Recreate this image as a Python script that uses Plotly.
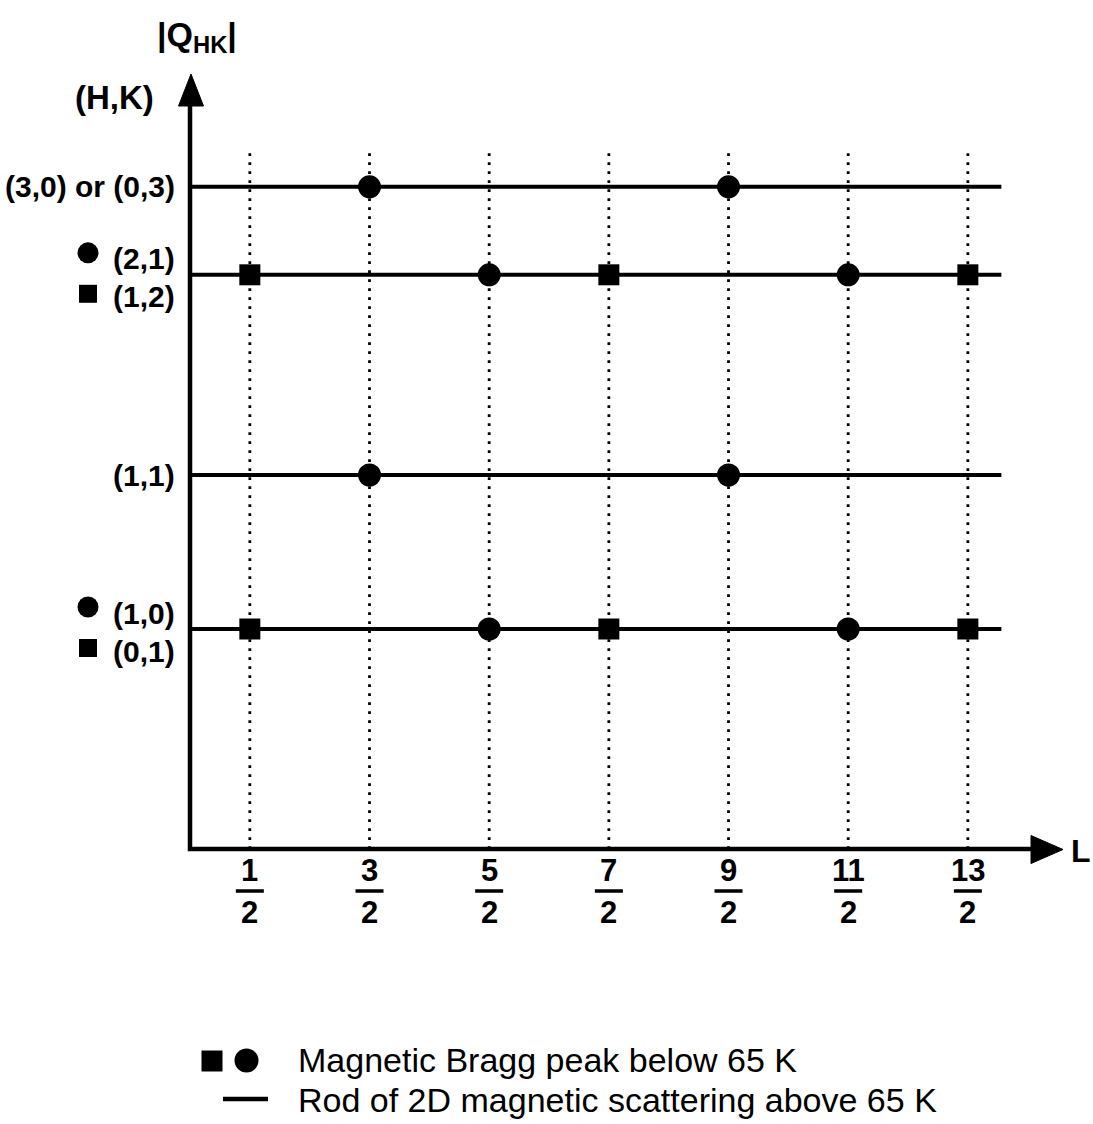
import plotly.graph_objects as go

# ---------------- data ----------------
L_num = [1, 3, 5, 7, 9, 11, 13]          # tick numerators (L = n/2)
L_den = 2
rod_names = ["(1,0)/(0,1)", "(1,1)", "(2,1)/(1,2)", "(3,0) or (0,3)"]
rod_levels = [1.00, 1.70, 2.61, 3.01]     # schematic |Q_HK| position
rod_L_end = 6.78

circle_L = [1.5, 4.5, 2.5, 5.5, 1.5, 4.5, 2.5, 5.5]
circle_Q = [3.01, 3.01, 2.61, 2.61, 1.70, 1.70, 1.00, 1.00]
square_L = [0.5, 3.5, 6.5, 0.5, 3.5, 6.5]
square_Q = [2.61, 2.61, 2.61, 1.00, 1.00, 1.00]

legend_texts = ["Magnetic Bragg peak below 65 K",
                "Rod of 2D magnetic scattering above 65 K"]

# ---------------- layout helpers (pixel <-> data) ----------------
W, H = 1093, 1124
PX0, PY0 = 190.0, 849.0   # pixel of origin
SX, SY = 119.67, 220.0    # pixels per unit

def dx(px):
    return (px - PX0) / SX

def dy(py):
    return (PY0 - py) / SY

FONT = "Liberation Sans, Arial, Helvetica, sans-serif"
BLACK = "#000000"

fig = go.Figure()

# dotted vertical guides
vx, vy = [], []
for n in L_num:
    L = n / L_den
    vx += [L, L, None]
    vy += [0, dy(150), None]
fig.add_trace(go.Scatter(x=vx, y=vy, mode="lines",
                         line=dict(color=BLACK, width=2.8, dash="2.8px,6.2px"),
                         hoverinfo="skip", showlegend=False))

# rods
rx, ry = [], []
for q in rod_levels:
    rx += [0, rod_L_end, None]
    ry += [q, q, None]
fig.add_trace(go.Scatter(x=rx, y=ry, mode="lines",
                         line=dict(color=BLACK, width=4),
                         hoverinfo="skip", showlegend=False))

# axes (single polyline for clean corner)
y_top = dy(104)
x_right = dx(1034)
fig.add_trace(go.Scatter(x=[0, 0, x_right], y=[y_top, 0, 0], mode="lines",
                         line=dict(color=BLACK, width=4.5),
                         hoverinfo="skip", showlegend=False))

# markers
fig.add_trace(go.Scatter(x=circle_L, y=circle_Q, mode="markers",
                         marker=dict(symbol="circle", size=23, color=BLACK,
                                     line=dict(width=0)),
                         hoverinfo="skip", showlegend=False))
fig.add_trace(go.Scatter(x=square_L, y=square_Q, mode="markers",
                         marker=dict(symbol="square", size=21, color=BLACK,
                                     line=dict(width=0)),
                         hoverinfo="skip", showlegend=False))

shapes = []
# arrowheads
shapes.append(dict(type="path", xref="x", yref="y",
                   path=f"M {dx(178.5)},{dy(106)} L {dx(191)},{dy(74)} L {dx(203.5)},{dy(106)} Z",
                   fillcolor=BLACK, line=dict(color=BLACK, width=1)))
shapes.append(dict(type="path", xref="x", yref="y",
                   path=f"M {dx(1031)},{dy(835.5)} L {dx(1063)},{dy(849.5)} L {dx(1031)},{dy(863.5)} Z",
                   fillcolor=BLACK, line=dict(color=BLACK, width=1)))

annotations = []
tick_font = dict(family=FONT, size=31, color=BLACK, weight="bold")
# fraction tick labels
for n in L_num:
    L = n / L_den
    annotations.append(dict(x=L, y=0, xref="x", yref="y", text=str(n),
                            showarrow=False, xanchor="center", yanchor="middle",
                            yshift=-(870 - PY0), font=tick_font))
    annotations.append(dict(x=L, y=0, xref="x", yref="y", text=str(L_den),
                            showarrow=False, xanchor="center", yanchor="middle",
                            yshift=-(912 - PY0), font=tick_font))
    shapes.append(dict(type="line", xref="x", yref="y",
                       x0=L - 14 / SX, x1=L + 14 / SX,
                       y0=dy(891), y1=dy(891),
                       line=dict(color=BLACK, width=3.5)))

bold = dict(family=FONT, size=30, color=BLACK, weight="bold")

# axis titles
annotations.append(dict(x=dx(197), y=dy(36), xref="x", yref="y",
                        text="|Q<sub>HK</sub>|", showarrow=False,
                        xanchor="center", yanchor="middle",
                        font=dict(family=FONT, size=34, color=BLACK, weight="bold")))
annotations.append(dict(x=dx(156), y=dy(97), xref="x", yref="y",
                        text="(H,K)", showarrow=False,
                        xanchor="right", yanchor="middle",
                        font=dict(family=FONT, size=33, color=BLACK, weight="bold")))
annotations.append(dict(x=dx(1069), y=0, xref="x", yref="y",
                        text="L", showarrow=False, yshift=-2,
                        xanchor="left", yanchor="middle",
                        font=dict(family=FONT, size=32, color=BLACK, weight="bold")))

# rod labels
label_right = dx(177)
annotations.append(dict(x=label_right, y=rod_levels[3], xref="x", yref="y",
                        text=rod_names[3], showarrow=False,
                        xanchor="right", yanchor="middle", font=bold))
annotations.append(dict(x=label_right, y=rod_levels[1], xref="x", yref="y",
                        text=rod_names[1], showarrow=False,
                        xanchor="right", yanchor="middle", font=bold))

# paired labels with symbols
off = 19 / SY
mk_x = dx(88)
pair_circ_y, pair_sq_y = [], []
for q, name in [(rod_levels[2], rod_names[2]), (rod_levels[0], rod_names[0])]:
    a, b = name.split("/")
    annotations.append(dict(x=label_right, y=q + off, xref="x", yref="y", text=a,
                            showarrow=False, xanchor="right", yanchor="middle",
                            yshift=-3, font=bold))
    annotations.append(dict(x=label_right, y=q - off, xref="x", yref="y", text=b,
                            showarrow=False, xanchor="right", yanchor="middle",
                            yshift=-3, font=bold))
    pair_circ_y.append(q + off)
    pair_sq_y.append(q - off)

fig.add_trace(go.Scatter(x=[mk_x] * 2, y=[y + 3 / SY for y in pair_circ_y], mode="markers",
                         marker=dict(symbol="circle", size=21, color=BLACK, line=dict(width=0)),
                         hoverinfo="skip", showlegend=False))
fig.add_trace(go.Scatter(x=[mk_x] * 2, y=pair_sq_y, mode="markers",
                         marker=dict(symbol="square", size=18, color=BLACK, line=dict(width=0)),
                         hoverinfo="skip", showlegend=False))

# bottom legend
fig.add_trace(go.Scatter(x=[dx(212)], y=[dy(1061)], mode="markers",
                         marker=dict(symbol="square", size=21, color=BLACK, line=dict(width=0)),
                         hoverinfo="skip", showlegend=False))
fig.add_trace(go.Scatter(x=[dx(246.5)], y=[dy(1060.5)], mode="markers",
                         marker=dict(symbol="circle", size=24, color=BLACK, line=dict(width=0)),
                         hoverinfo="skip", showlegend=False))
fig.add_trace(go.Scatter(x=[dx(223), dx(268)], y=[dy(1099), dy(1099)], mode="lines",
                         line=dict(color=BLACK, width=4.5),
                         hoverinfo="skip", showlegend=False))
reg = dict(family=FONT, size=34, color=BLACK)
annotations.append(dict(x=dx(296), y=dy(1060), xref="x", yref="y", text=legend_texts[0],
                        showarrow=False, xanchor="left", yanchor="middle", font=reg))
annotations.append(dict(x=dx(296), y=dy(1100), xref="x", yref="y", text=legend_texts[1],
                        showarrow=False, xanchor="left", yanchor="middle", font=reg))

fig.update_layout(
    width=W, height=H,
    margin=dict(l=0, r=0, t=0, b=0),
    paper_bgcolor="white", plot_bgcolor="white",
    xaxis=dict(range=[dx(0), dx(W)], visible=False, fixedrange=True),
    yaxis=dict(range=[dy(H), dy(0)], visible=False, fixedrange=True),
    shapes=shapes, annotations=annotations,
    showlegend=False,
)

fig.write_html("out.html")
